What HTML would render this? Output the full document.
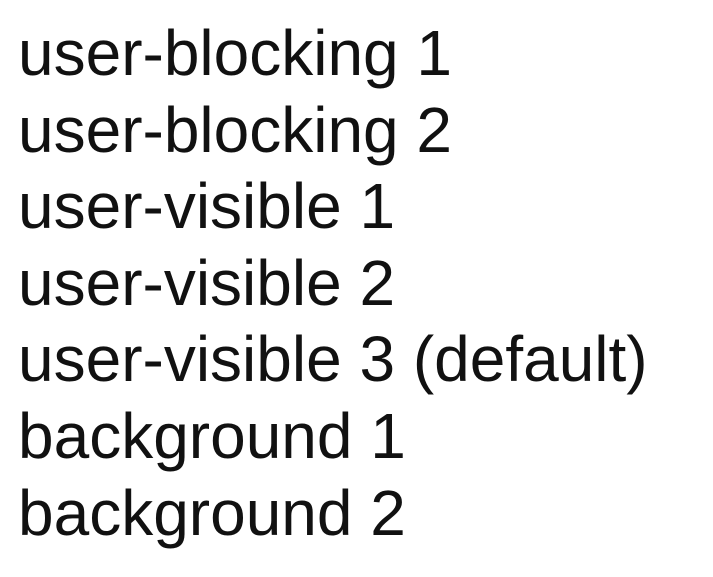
<!DOCTYPE html>
<html><head><meta charset="utf-8"><style>
html,body{margin:0;padding:0;background:#fff;width:713px;height:577px;overflow:hidden}
.t{position:absolute;left:18px;top:15px;font-family:"Liberation Sans",sans-serif;font-size:64px;line-height:76.6px;color:#111;white-space:nowrap}
</style></head><body>
<div class="t">user-blocking 1<br>user-blocking 2<br>user-visible 1<br>user-visible 2<br>user-visible 3 (default)<br>background 1<br>background 2</div>
</body></html>
